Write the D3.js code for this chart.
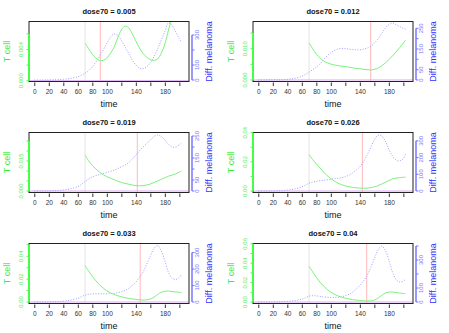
<!DOCTYPE html>
<html>
<head>
<meta charset="utf-8">
<script src="https://cdn.jsdelivr.net/npm/d3@7"></script>
<style>
  body { margin: 0; background: #fff; }
  svg { display: block; font-family: "Liberation Sans", Arial, Helvetica, sans-serif; }
</style>
</head>
<body>
<svg id="chart" width="449" height="333"></svg>
<script>
// panel titles
var doses = ["0.005", "0.012", "0.019", "0.026", "0.033", "0.04"];

// time axis
var timeTicks = [0, 20, 40, 60, 80, 100, 120, 140, 160, 180, 200];
var timeLabels = ["0", "20", "40", "60", "80", "100", "", "140", "", "180", ""];
var timeLimits = [-7.3, 213.3];
var treatStart = 70;
var redLines = [91, 155, 142, 143.5, 146, 149.5];

// T cell (green, left axis), sampled every 5 time units from 70
var tcellTimes = [70, 75, 80, 85, 90, 95, 100, 105, 110, 115, 120, 125, 130, 135, 140,
                  145, 150, 155, 160, 165, 170, 175, 180, 185, 190, 195, 200, 203];
var tcell1 = [.0048, .0041, .0034, .0029, .0026, .0026, .0029, .0035, .0043, .0055, .0065, .0070, .0068, .0060, .0051,
              .0042, .0035, .0030, .0027, .0026, .0028, .0035, .0047, .0065, .0082, .0095, .0105, .0110];
var tcell2 = [.0118, .0100, .0083, .0071, .0061, .0055, .0051, .0048, .0046, .0044, .0043, .0041, .0039, .0037, .0036,
              .0034, .0033, .0032, .0034, .0038, .0045, .0054, .0065, .0077, .0090, .0104, .0118, .0128];
var tcell3 = [.0180, .0150, .0128, .0110, .0094, .0082, .0072, .0064, .0057, .0049, .0043, .0038, .0034, .0030, .0027,
              .0026, .0027, .0030, .0035, .0042, .0050, .0058, .0066, .0074, .0080, .0086, .0094, .0101];
var tcell4 = [.0250, .0215, .0185, .0158, .0130, .0105, .0085, .0068, .0054, .0043, .0035, .0029, .0025, .0022, .0020,
              .0019, .0020, .0023, .0028, .0037, .0048, .0060, .0072, .0083, .0089, .0092, .0094, .0096];
var tcell5 = [.0320, .0270, .0225, .0185, .0150, .0122, .0098, .0080, .0066, .0055, .0046, .0038, .0032, .0027, .0023,
              .0019, .0017, .0019, .0027, .0042, .0066, .0085, .0094, .0096, .0092, .0088, .0085, .0083];
var tcell6 = [.0370, .0310, .0255, .0205, .0165, .0130, .0102, .0080, .0063, .0050, .0040, .0032, .0025, .0020, .0016,
              .0013, .0011, .0012, .0020, .0040, .0068, .0092, .0102, .0103, .0098, .0092, .0088, .0086];

// differentiated melanoma (blue dotted, right axis)
var melTimes = [0, 10, 20, 30, 40, 50, 60, 65, 70, 75, 80, 85, 90, 95, 100, 105, 110, 115, 120, 125, 130,
                135, 140, 145, 150, 155, 160, 165, 170, 175, 180, 185, 190, 195, 200, 203];
var mel1 = [0, 0, 1, 2, 5, 10, 22, 32, 45, 62, 88, 120, 158, 200, 245, 285, 307, 298, 265, 222, 178,
            135, 100, 78, 75, 88, 115, 155, 205, 265, 322, 380, 365, 320, 275, 250];
var mel2 = [0, 0, 1, 1, 3, 8, 18, 27, 38, 50, 62, 78, 98, 117, 132, 143, 150, 153, 152, 149, 147,
            146, 146, 149, 154, 162, 178, 198, 225, 250, 268, 275, 268, 258, 250, 246];
var mel3 = [0, 0, 1, 2, 5, 10, 20, 30, 43, 55, 64, 70, 75, 80, 84, 89, 95, 102, 110, 118, 128,
            145, 163, 183, 200, 215, 232, 248, 255, 248, 232, 212, 200, 200, 210, 220];
var mel4 = [0, 0, 1, 2, 6, 12, 25, 35, 47, 53, 57, 61, 64, 67, 70, 73, 76, 80, 86, 95, 108,
            125, 145, 175, 215, 260, 305, 333, 330, 300, 250, 210, 185, 180, 195, 220];
var mel5 = [0, 0, 1, 2, 5, 11, 22, 32, 42, 47, 50, 50, 50, 50, 50, 51, 53, 57, 62, 70, 82,
            100, 120, 150, 182, 230, 280, 325, 343, 310, 250, 180, 145, 137, 150, 168];
var mel6 = [0, 0, 1, 2, 5, 10, 20, 30, 42, 45, 44, 40, 36, 34, 33, 33, 34, 38, 45, 55, 70,
            92, 118, 150, 190, 245, 310, 370, 400, 370, 300, 214, 160, 143, 150, 162];

var tcellData = [tcell1, tcell2, tcell3, tcell4, tcell5, tcell6];
var melData = [mel1, mel2, mel3, mel4, mel5, mel6];

// axis limits, ticks and shown labels per panel
var tcellLimits = [[-0.0001, 0.00759], [-0.00048, 0.0187], [-0.00075, 0.02925],
                   [-0.001, 0.0401], [-0.0013, 0.0512], [-0.0015, 0.0603]];
var tcellTicks = [[0, .002, .004, .006], [0, .005, .010, .015], [0, .005, .010, .015, .020, .025],
                  [0, .01, .02, .03, .04], [0, .01, .02, .03, .04, .05], [0, .01, .02, .03, .04, .05, .06]];
var tcellLabels = [["0.000", "", "0.004", ""], ["0.000", "", "0.010", ""], ["0.000", "", "", "0.015", "", ""],
                   ["0.00", "", "0.02", "", "0.04"], ["0.00", "", "0.02", "", "0.04", ""],
                   ["0.00", "", "0.02", "", "0.04", "", "0.06"]];
var melLimits = [[-10, 390], [-7.3, 283], [-6.8, 266], [-9, 350], [-9, 355], [-10.7, 418]];
var melTicks = [[0, 100, 200, 300], [0, 50, 100, 150, 200, 250], [0, 50, 100, 150, 200, 250],
                [0, 100, 200, 300], [0, 100, 200, 300], [0, 100, 200, 300, 400]];
var melLabels = [["0", "100", "", "300"], ["0", "50", "", "150", "", "250"], ["0", "50", "", "150", "", "250"],
                 ["0", "100", "200", "300"], ["0", "100", "200", "300"], ["0", "100", "", "300", ""]];

var svg = d3.select("#chart");

doses.forEach(function(dose, i) {
  var col = i % 2, row = Math.floor(i / 2);
  var g = svg.append("g").attr("transform", "translate(" + (col * 224) + "," + (row * 111) + ")");
  var left = 29, right = 189, top = 21.5, bottom = 81.5;

  var x = d3.scaleLinear().domain(timeLimits).range([left, right]);
  var yT = d3.scaleLinear().domain(tcellLimits[i]).range([bottom, top]);
  var yM = d3.scaleLinear().domain(melLimits[i]).range([bottom, top]);

  g.append("clipPath").attr("id", "clip" + i)
    .append("rect").attr("x", left).attr("y", top).attr("width", right - left).attr("height", bottom - top);
  var plot = g.append("g").attr("clip-path", "url(#clip" + i + ")");

  // treatment start and second marker
  plot.append("line").attr("x1", x(treatStart)).attr("x2", x(treatStart))
    .attr("y1", top).attr("y2", bottom).attr("stroke", "#e4e4e4").attr("stroke-width", 1);
  plot.append("line").attr("x1", x(redLines[i])).attr("x2", x(redLines[i]))
    .attr("y1", top).attr("y2", bottom).attr("stroke", "#ffb8b8").attr("stroke-width", 1);
  plot.append("line").attr("x1", left).attr("x2", right)
    .attr("y1", yT(0)).attr("y2", yT(0)).attr("stroke", "#dcaaf2").attr("stroke-width", 1);

  var melLine = d3.line().curve(d3.curveCatmullRom)
    .x(function(d, k) { return x(melTimes[k]); })
    .y(function(d) { return yM(d); });
  plot.append("path").attr("d", melLine(melData[i]))
    .attr("fill", "none").attr("stroke", "#9d9dff").attr("stroke-width", 1)
    .attr("stroke-dasharray", "1,1.6");

  var tLine = d3.line().curve(d3.curveCatmullRom)
    .x(function(d, k) { return x(tcellTimes[k]); })
    .y(function(d) { return yT(d); });
  plot.append("path").attr("d", tLine(tcellData[i]))
    .attr("fill", "none").attr("stroke", "#7cf27c").attr("stroke-width", 1);

  // box
  g.append("rect").attr("x", left).attr("y", top).attr("width", right - left).attr("height", bottom - top)
    .attr("fill", "none").attr("stroke", "#222").attr("stroke-width", 1);

  // time axis
  var xAxis = d3.axisBottom(x).tickValues(timeTicks).tickSize(3.5).tickPadding(3.5)
    .tickFormat(function(d, k) { return timeLabels[k]; });
  var xa = g.append("g").attr("transform", "translate(0," + (bottom + 1) + ")").call(xAxis);
  xa.select(".domain").remove();
  xa.selectAll("line").attr("stroke", "#333");
  xa.selectAll("text").attr("font-size", 6.5).attr("fill", "#333").attr("font-family", null);

  // T cell axis
  var yAxis = d3.axisLeft(yT).tickValues(tcellTicks[i]).tickSize(2.5).tickPadding(1.5)
    .tickFormat(function(d, k) { return tcellLabels[i][k]; });
  var ya = g.append("g").attr("transform", "translate(" + left + ",0)").call(yAxis);
  ya.select(".domain").attr("d", "M0," + yT(tcellTicks[i][0]) + "V" + yT(tcellTicks[i][tcellTicks[i].length - 1]))
    .attr("stroke", "#44ff44").attr("stroke-width", 2);
  ya.selectAll(".tick").attr("transform", null);
  ya.selectAll(".tick line").attr("stroke", "#44ff44")
    .attr("y1", function(d) { return yT(d); }).attr("y2", function(d) { return yT(d); });
  ya.selectAll("text").attr("font-size", 6).attr("fill", "#55ee55").attr("font-family", null)
    .attr("text-anchor", "middle").attr("dy", null).attr("x", 0).attr("y", 0)
    .each(function(d) { d3.select(this).attr("transform", "translate(-6," + yT(d) + ") rotate(-90)"); });

  // melanoma axis
  var mAxis = d3.axisRight(yM).tickValues(melTicks[i]).tickSize(2.5)
    .tickFormat(function(d, k) { return melLabels[i][k]; });
  var ma = g.append("g").attr("transform", "translate(" + (right + 3) + ",0)").call(mAxis);
  ma.select(".domain").attr("d", "M0," + yM(melTicks[i][0]) + "V" + yM(melTicks[i][melTicks[i].length - 1]))
    .attr("stroke", "#7777ff").attr("stroke-width", 1.5);
  ma.selectAll(".tick").attr("transform", null);
  ma.selectAll(".tick line").attr("stroke", "#7777ff")
    .attr("y1", function(d) { return yM(d); }).attr("y2", function(d) { return yM(d); });
  ma.selectAll("text").attr("font-size", 6).attr("fill", "#7777ff").attr("font-family", null)
    .attr("text-anchor", "middle").attr("dy", null).attr("x", 0).attr("y", 0)
    .each(function(d) { d3.select(this).attr("transform", "translate(7," + yM(d) + ") rotate(-90)"); });

  // titles and axis labels
  g.append("text").attr("x", (left + right) / 2).attr("y", 13.5).attr("text-anchor", "middle")
    .attr("font-size", 7.5).attr("font-weight", "bold").attr("fill", "#111").text("dose70 = " + dose);
  g.append("text").attr("x", (left + right) / 2).attr("y", 107).attr("text-anchor", "middle")
    .attr("font-size", 9).attr("fill", "#111").text("time");
  g.append("text").attr("transform", "translate(10," + ((top + bottom) / 2) + ") rotate(-90)")
    .attr("text-anchor", "middle").attr("font-size", 9).attr("fill", "#33ee33").text("T cell");
  g.append("text").attr("transform", "translate(212," + ((top + bottom) / 2) + ") rotate(-90)")
    .attr("text-anchor", "middle").attr("font-size", 9).attr("fill", "#3333ff").text("Diff. melanoma");
});
</script>
</body>
</html>
